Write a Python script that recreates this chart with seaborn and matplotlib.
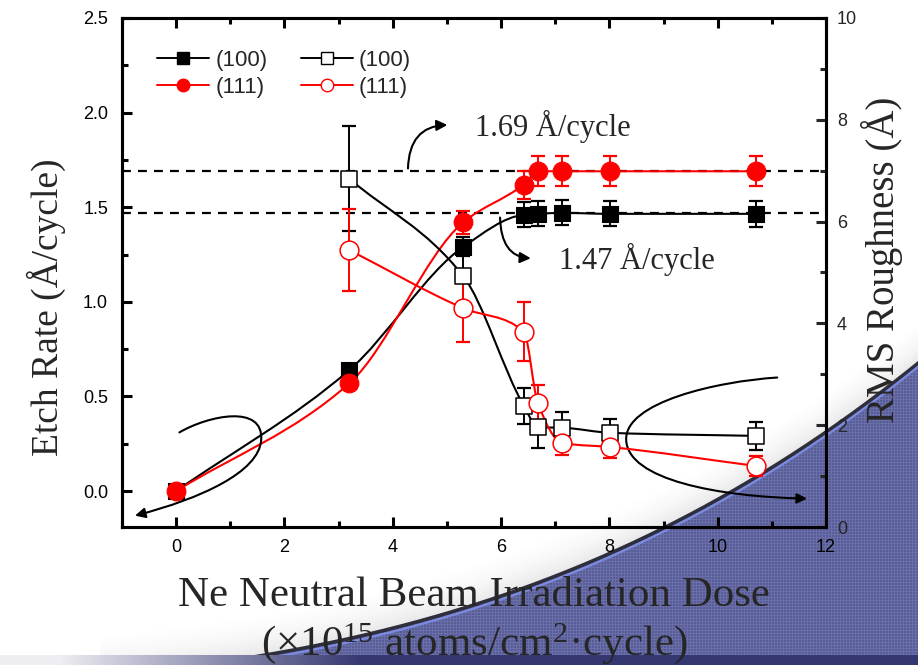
import numpy as np
import pandas as pd
import matplotlib
matplotlib.use("Agg")
import matplotlib.pyplot as plt
import seaborn as sns
from matplotlib.path import Path
from matplotlib.patches import PathPatch, FancyArrowPatch, Polygon
from matplotlib.lines import Line2D
from matplotlib.ticker import MultipleLocator

# ---------------- data ----------------
dose = [0.0, 3.2, 5.3, 6.42, 6.68, 7.13, 8.02, 10.7]
etch_100 = [0.0, 0.64, 1.29, 1.46, 1.465, 1.47, 1.465, 1.465]
etch_100_err = [0.0, 0.0, 0.05, 0.066, 0.066, 0.066, 0.066, 0.07]
etch_111 = [0.0, 0.57, 1.42, 1.62, 1.69, 1.69, 1.69, 1.69]
etch_111_err = [0.0, 0.0, 0.06, 0.074, 0.08, 0.08, 0.08, 0.08]

dose_rms = [3.2, 5.3, 6.42, 6.68, 7.13, 8.02, 10.7]
rms_100 = [6.84, 4.93, 2.38, 1.96, 1.95, 1.85, 1.79]
rms_100_err = [1.03, 0.57, 0.35, 0.4, 0.3, 0.27, 0.27]
rms_111 = [5.44, 4.30, 3.84, 2.43, 1.65, 1.57, 1.20]
rms_111_err = [0.8, 0.67, 0.58, 0.35, 0.24, 0.22, 0.19]

sat_111 = 1.69
sat_100 = 1.47
legend_labels = ["(100)", "(111)", "(100)", "(111)"]
x_ticks = [0, 2, 4, 6, 8, 10, 12]
left_ticks = [0.0, 0.5, 1.0, 1.5, 2.0, 2.5]
right_ticks = [0, 2, 4, 6, 8, 10]

# ---------------- style ----------------
sns.set_style("ticks")
plt.rcParams["font.family"] = ["Liberation Sans", "DejaVu Sans"]
plt.rcParams["mathtext.fontset"] = "custom"
plt.rcParams["mathtext.rm"] = "Liberation Serif"
plt.rcParams["mathtext.it"] = "Liberation Serif:italic"
plt.rcParams["mathtext.bf"] = "Liberation Serif:bold"
SERIF = ["Liberation Serif", "DejaVu Serif"]
RED = "#ff0000"

W, H = 918, 665
fig = plt.figure(figsize=(W / 100, H / 100), dpi=100)
fig.patch.set_facecolor("white")

# ---------------- background swoosh (decoration) ----------------
bg = fig.add_axes([0, 0, 1, 1])
bg.set_zorder(-10)
bg.set_xlim(0, W)
bg.set_ylim(H, 0)
bg.axis("off")
cx = np.array([918, 826, 740, 667, 600, 500, 400, 300, 200, 120])
cy = np.array([362, 430, 488, 527, 556, 592, 625, 650, 665, 672])
coef = np.polyfit(cx, cy, 3)
xs = np.linspace(100, 930, 400)
ys = np.polyval(coef, xs)
for k in range(45):
    a = 0.13 * (1 - k / 45) ** 2
    bg.fill_between(xs, ys - k - 1, ys - k, color="#50505a", alpha=a, lw=0)
bg.fill_between(xs, ys, H + 10, color="#575b96", lw=0)
# grid texture
tex = np.zeros((H, W, 4))
tex[:, :, :3] = np.array([0.50, 0.52, 0.75])
tex[:, ::3, 3] = 0.5
tex[::3, :, 3] = 0.5
im = bg.imshow(tex, extent=[0, W, H, 0], zorder=2, interpolation="nearest")
clip = Polygon(np.column_stack([np.r_[xs, 930, 100], np.r_[ys, H + 10, H + 10]]),
               closed=True, transform=bg.transData)
im.set_clip_path(clip)
bg.plot(xs, ys + 1, color="#2e2e3c", lw=2.6, zorder=3)
bg.plot(xs, ys + 4.5, color="#7f90e8", lw=1.6, alpha=0.9, zorder=3)
# bottom band
band = np.zeros((1, W, 3))
t = np.clip((np.arange(W) - 60) / 300.0, 0, 1)[None, :, None]
band[:] = (1 - t) * np.array([0.93, 0.93, 0.95]) + t * np.array([0.21, 0.22, 0.44])
bg.imshow(band, extent=[0, W, H, 655], aspect="auto", zorder=4)
bg.set_xlim(0, W)
bg.set_ylim(H, 0)

# ---------------- main axes ----------------
ax = fig.add_axes([122 / W, 138 / H, 704 / W, 509 / H])
ax.patch.set_visible(False)
ax2 = ax.twinx()
ax2.patch.set_visible(False)

ax.set_xlim(-1, 12)
ax.set_ylim(-0.19, 2.5)
ax2.set_ylim(0, 10)


def smooth_path(x, y):
    x = np.asarray(x, float)
    y = np.asarray(y, float)
    h = np.diff(x)
    d = np.diff(y) / h
    m = np.zeros_like(x)
    m[0], m[-1] = d[0], d[-1]
    for i in range(1, len(x) - 1):
        if d[i - 1] * d[i] <= 0:
            m[i] = 0.0
        else:
            w1 = 2 * h[i] + h[i - 1]
            w2 = h[i] + 2 * h[i - 1]
            m[i] = (w1 + w2) / (w1 / d[i - 1] + w2 / d[i])
    verts = [(x[0], y[0])]
    codes = [Path.MOVETO]
    for i in range(len(x) - 1):
        verts += [(x[i] + h[i] / 3, y[i] + m[i] * h[i] / 3),
                  (x[i + 1] - h[i] / 3, y[i + 1] - m[i + 1] * h[i] / 3),
                  (x[i + 1], y[i + 1])]
        codes += [Path.CURVE4] * 3
    return Path(verts, codes)


def draw_series(a, x, y, err, color, marker, face, size, ew):
    a.add_patch(PathPatch(smooth_path(x, y), fill=False, edgecolor=color, lw=1.5, zorder=2))
    x = np.asarray(x); y = np.asarray(y); err = np.asarray(err)
    msk = err > 0
    a.errorbar(x[msk], y[msk], yerr=err[msk], fmt="none", ecolor=color,
               elinewidth=1.4, capsize=4.8, capthick=1.6, zorder=3)
    df = pd.DataFrame({"x": x, "y": y})
    sns.scatterplot(data=df, x="x", y="y", ax=a, marker=marker, s=size ** 2,
                    color=face, edgecolor=color, linewidth=ew, zorder=4, legend=False)


# dashed saturation lines
ax.axhline(sat_111, color="black", lw=1.6, ls=(0, (4, 3.2)), zorder=1)
ax.axhline(sat_100, color="black", lw=1.6, ls=(0, (4, 3.2)), zorder=1)

draw_series(ax, dose, etch_100, etch_100_err, "black", "s", "black", 11, 0.8)
draw_series(ax, dose, etch_111, etch_111_err, RED, "o", RED, 13.5, 0.8)
draw_series(ax2, dose_rms, rms_100, rms_100_err, "black", "s", "white", 12, 1.1)
draw_series(ax2, dose_rms, rms_111, rms_111_err, RED, "o", "white", 13.5, 1.1)

# annotations
ax.text(6.96, 1.925, "1.69 Å/cycle", fontsize=22, family=SERIF, ha="center", va="center")
ax.text(8.5, 1.225, "1.47 Å/cycle", fontsize=22, family=SERIF, ha="center", va="center")
ax.add_patch(FancyArrowPatch(posA=(4.28, sat_111), posB=(5.06, 1.935),
                             connectionstyle="angle3,angleA=90,angleB=0",
                             arrowstyle="-|>", mutation_scale=16, lw=1.5, color="black"))
ax.add_patch(FancyArrowPatch(posA=(5.98, sat_100 - 0.01), posB=(6.6, 1.23),
                             connectionstyle="angle3,angleA=90,angleB=0",
                             arrowstyle="-|>", mutation_scale=16, lw=1.5, color="black"))

loop_left = Path([(0.06, 0.31), (0.6, 0.40), (1.62, 0.46), (1.57, 0.27),
                  (1.53, 0.10), (0.45, -0.04), (-0.76, -0.13)],
                 [Path.MOVETO, Path.CURVE4, Path.CURVE4, Path.CURVE4,
                  Path.CURVE4, Path.CURVE4, Path.CURVE4])
loop_right = Path([(11.1, 0.60), (10.0, 0.58), (8.28, 0.47), (8.31, 0.27),
                   (8.34, 0.06), (10.0, -0.03), (11.65, -0.04)],
                  [Path.MOVETO, Path.CURVE4, Path.CURVE4, Path.CURVE4,
                   Path.CURVE4, Path.CURVE4, Path.CURVE4])
for p in (loop_left, loop_right):
    ax.add_patch(FancyArrowPatch(path=p, arrowstyle="-|>", mutation_scale=15,
                                 lw=1.5, color="black", zorder=2))

# ticks & spines
for a in (ax, ax2):
    for s in a.spines.values():
        s.set_linewidth(2.2)
        s.set_color("black")
ax.set_xticks(x_ticks)
ax.xaxis.set_minor_locator(MultipleLocator(1))
ax.set_yticks(left_ticks)
ax.set_yticklabels([f"{v:.1f}" for v in left_ticks])
ax.yaxis.set_minor_locator(MultipleLocator(0.25))
ax2.set_yticks(right_ticks)
ax2.yaxis.set_minor_locator(MultipleLocator(1))
ax.tick_params(axis="both", which="both", direction="in", width=2.2, labelsize=13,
               top=True, right=False, colors="black")
ax.tick_params(axis="both", which="major", length=7)
ax.tick_params(axis="both", which="minor", length=4.5)
ax.tick_params(axis="x", which="both", top=True, labeltop=False)
ax.tick_params(axis="x", pad=9)
ax.tick_params(axis="y", pad=10)
ax2.tick_params(axis="y", which="both", direction="in", width=2.2, labelsize=13, pad=8)
ax2.tick_params(axis="y", which="major", length=7)
ax2.tick_params(axis="y", which="minor", length=4.5)

# labels
ax.set_ylabel("Etch Rate (Å/cycle)", fontsize=27, family=SERIF)
ax.yaxis.label.set_va("center")
ax.yaxis.label.set_ha("center")
ax.yaxis.set_label_coords(-0.107, 0.432)
ax2.set_ylabel("RMS Roughness (Å)", fontsize=28, family=SERIF, rotation=90)
ax2.yaxis.label.set_va("center")
ax2.yaxis.label.set_ha("center")
ax2.yaxis.set_label_coords(1.08, 0.525)
ax.set_xlabel("Ne Neutral Beam Irradiation Dose\n(×10$^{15}$ atoms/cm$^{2}$·cycle)",
              fontsize=31, family=SERIF, linespacing=1.2)
ax.xaxis.label.set_va("center")
ax.xaxis.set_label_coords(0.5, -0.185)

# legend
handles = [
    Line2D([], [], color="black", lw=1.4, marker="s", ms=8, mfc="black", mec="black"),
    Line2D([], [], color=RED, lw=1.4, marker="o", ms=9, mfc=RED, mec=RED),
    Line2D([], [], color="black", lw=1.4, marker="s", ms=8, mfc="white", mec="black", mew=1.0),
    Line2D([], [], color=RED, lw=1.4, marker="o", ms=9, mfc="white", mec=RED, mew=1.0),
]
ax2.legend(handles, legend_labels, ncol=2, loc="upper left",
           bbox_to_anchor=(0.05, 0.937), frameon=False, fontsize=16,
           handlelength=2.35, handletextpad=0.27, columnspacing=1.5,
           labelspacing=0.25, borderpad=0, borderaxespad=0)

fig.savefig("out.png", dpi=100)
